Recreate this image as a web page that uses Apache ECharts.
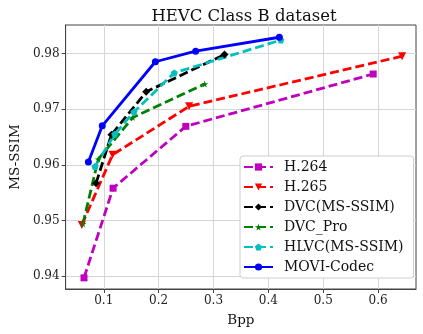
<!DOCTYPE html>
<html>
<head>
<meta charset="utf-8">
<script src="https://cdn.jsdelivr.net/npm/echarts@6/dist/echarts.min.js"></script>
<style>
  html, body { margin: 0; padding: 0; background: #fff; }
  #chart { width: 423px; height: 334px; }
</style>
</head>
<body>
<div id="chart"></div>
<script>
const xTicks = [0.1, 0.2, 0.3, 0.4, 0.5, 0.6]
const yTicks = [0.94, 0.95, 0.96, 0.97, 0.98]

// [bpp, ms-ssim]
const h264 = [[0.064, 0.9397], [0.117, 0.9558], [0.2495, 0.9669], [0.591, 0.9763]]
const h265 = [[0.060, 0.9492], [0.116, 0.9618], [0.2556, 0.9705], [0.6437, 0.9795]]
const dvc = [[0.086, 0.9567], [0.114, 0.9654], [0.1773, 0.9731], [0.320, 0.9798]]
const dvcPro = [[0.062, 0.9494], [0.090, 0.9610], [0.153, 0.9685], [0.284, 0.9745]]
const hlvc = [[0.084, 0.9597], [0.120, 0.9655], [0.155, 0.9695], [0.2285, 0.9765], [0.4227, 0.9824]]
const movi = [[0.072, 0.9605], [0.0973, 0.9670], [0.194, 0.9785], [0.2675, 0.9804], [0.420, 0.9829]]

const star = 'path://M50,0 L61,35 L98,35 L68,57 L79,91 L50,70 L21,91 L32,57 L2,35 L39,35 Z'
const pentagon = 'path://M50,0 L98,35 L79,91 L21,91 L2,35 Z'

const font = 'DejaVu Serif'

function line(name, data, color, symbol, size, dashed, rotate) {
  return {
    name,
    type: 'line',
    data,
    symbol,
    symbolSize: size,
    symbolRotate: rotate || 0,
    lineStyle: { color, width: 2.8, type: dashed ? [9, 4] : 'solid' },
    itemStyle: { color },
    z: 2,
  }
}

const chart = echarts.init(document.getElementById('chart'))
chart.setOption({
  animation: false,
  textStyle: { fontFamily: font },
  title: {
    text: 'HEVC Class B dataset',
    left: 239,
    textAlign: 'center',
    top: 3,
    textStyle: { fontFamily: font, fontSize: 16.5, fontWeight: 'normal', color: '#111' },
  },
  grid: {
    left: 62, right: 7, top: 25, bottom: 45,
    show: true, borderColor: '#444', borderWidth: 1,
  },
  legend: {
    orient: 'vertical',
    left: 240,
    top: 156,
    itemWidth: 29,
    itemHeight: 9,
    itemGap: 6,
    padding: [4, 10, 4, 3],
    backgroundColor: '#fff',
    borderColor: '#ccc',
    borderWidth: 1,
    borderRadius: 3,
    textStyle: { fontFamily: font, fontSize: 14, color: '#111', padding: [0, 0, 0, 6] },
    data: ['H.264', 'H.265', 'DVC(MS-SSIM)', 'DVC_Pro', 'HLVC(MS-SSIM)', 'MOVI-Codec'],
  },
  xAxis: {
    type: 'value',
    min: 0.0305,
    max: 0.669,
    name: 'Bpp',
    nameLocation: 'middle',
    nameGap: 24,
    nameTextStyle: { fontFamily: font, fontSize: 13.5, color: '#111' },
    axisLine: { show: true, lineStyle: { color: '#444' } },
    axisTick: { show: true, length: 4, customValues: xTicks, lineStyle: { color: '#444' } },
    axisLabel: {
      customValues: xTicks, fontFamily: font, fontSize: 12, color: '#222', margin: 6,
      formatter: v => v.toFixed(1),
    },
    splitLine: { show: true, lineStyle: { color: '#d6d6d6', width: 1 } },
  },
  yAxis: {
    type: 'value',
    min: 0.9377,
    max: 0.9851,
    name: 'MS-SSIM',
    nameLocation: 'middle',
    nameGap: 42,
    nameTextStyle: { fontFamily: font, fontSize: 13.5, color: '#111' },
    axisLine: { show: true, lineStyle: { color: '#444' } },
    axisTick: { show: true, length: 4, customValues: yTicks, lineStyle: { color: '#444' } },
    axisLabel: {
      customValues: yTicks, fontFamily: font, fontSize: 12, color: '#222', margin: 6,
      formatter: v => v.toFixed(2),
    },
    splitLine: { show: true, lineStyle: { color: '#d6d6d6', width: 1 } },
  },
  series: [
    line('H.264', h264, '#bf00bf', 'rect', 7, true),
    line('H.265', h265, '#ff0000', 'triangle', 8, true, 180),
    line('DVC(MS-SSIM)', dvc, '#000000', 'diamond', 8, true),
    line('DVC_Pro', dvcPro, '#008000', star, 7, true),
    line('HLVC(MS-SSIM)', hlvc, '#00bfbf', pentagon, 7, true),
    line('MOVI-Codec', movi, '#0000ff', 'circle', 7, false),
  ],
})
</script>
</body>
</html>
